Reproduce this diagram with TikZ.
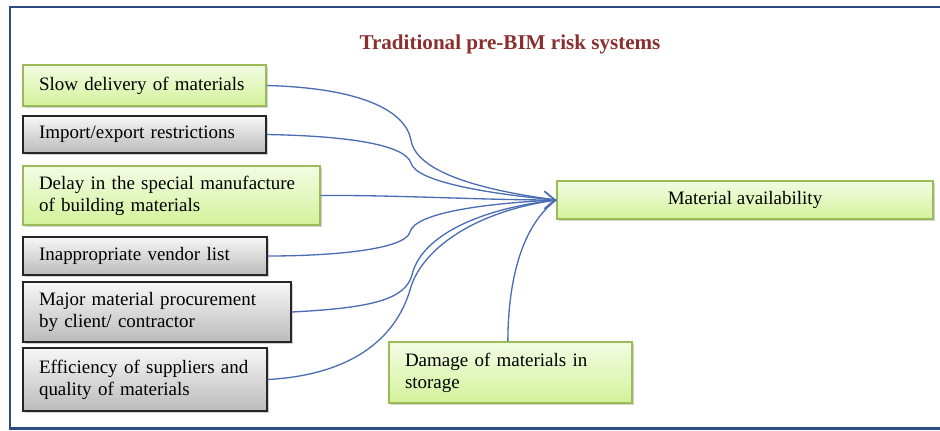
\documentclass[tikz,border=0pt]{standalone}
\usepackage{fontspec}
\setmainfont{Liberation Serif}
\usetikzlibrary{arrows.meta,shadows}
\definecolor{framec}{HTML}{2F4B7F}
\definecolor{linec}{HTML}{4A6DB3}
\definecolor{titlec}{HTML}{8B2F2F}
\definecolor{gborder}{HTML}{9BBB59}
\definecolor{gtop}{HTML}{F3FCE4}
\definecolor{gbot}{HTML}{D3F29A}
\definecolor{ytop}{HTML}{F7F7F7}
\definecolor{ybot}{HTML}{BBBBBB}
\tikzset{
  boxbase/.style={line width=0.8pt, font=\fontsize{10.8}{12.5}\selectfont, inner xsep=0pt, inner ysep=0pt,
    drop shadow={shadow xshift=1.3pt, shadow yshift=-1.3pt, opacity=0.35}},
  greenbox/.style={boxbase, draw=gborder, top color=gtop, bottom color=gbot},
  graybox/.style={boxbase, draw=black!85, top color=ytop, bottom color=ybot},
  conn/.style={draw=linec, line width=0.75pt},
}
\begin{document}
\begin{tikzpicture}[x=0.02cm, y=-0.02cm]
\useasboundingbox (0,0) rectangle (940,430);
\fill[white] (0,0) rectangle (940,430);
\draw[framec, line width=1.7pt] (960,7) -- (10,7) -- (10,428) -- (960,428);

\node[text=titlec, font=\bfseries\fontsize{12}{14}\selectfont] (title) at (510,44) {Traditional pre-BIM risk systems};

\node[greenbox, minimum width=4.86cm, minimum height=0.82cm, text width=4.22cm, align=left] (s1) at (144.5,85.5) {\mbox{Slow delivery of materials}};
\node[graybox, minimum width=4.86cm, minimum height=0.74cm, text width=4.22cm, align=left] (s2) at (144.5,134.5) {\mbox{Import/export restrictions}};
\node[greenbox, minimum width=5.94cm, minimum height=1.18cm, text width=5.30cm, align=left] (s3) at (171.5,195.5) {\mbox{Delay in the special manufacture}\\\mbox{of building materials}};
\node[graybox, minimum width=4.88cm, minimum height=0.76cm, text width=4.24cm, align=left] (s4) at (145,256) {\mbox{Inappropriate vendor list}};
\node[graybox, minimum width=5.36cm, minimum height=1.20cm, text width=4.72cm, align=left] (s5) at (157,312) {\mbox{Major material procurement}\\\mbox{by client/ contractor}};
\node[graybox, minimum width=4.88cm, minimum height=1.26cm, text width=4.24cm, align=left] (s6) at (145,379.5) {\mbox{Efficiency of suppliers and}\\\mbox{quality of materials}};
\node[greenbox, minimum width=7.52cm, minimum height=0.76cm, align=center] (ma) at (745,200) {Material availability};
\node[greenbox, minimum width=4.86cm, minimum height=1.22cm, text width=4.22cm, align=left] (dm) at (510.5,372.5) {\mbox{Damage of materials in}\\\mbox{storage}};

\coordinate (tip) at (ma.west);
\draw[conn] (s1.east) .. controls (360,88) and (405,110) .. (411,140) .. controls (416,172) and (480,190) .. (tip);
\draw[conn] (s2.east) .. controls (350,136) and (405,145) .. (411,163) .. controls (416,182) and (490,194) .. (tip);
\draw[conn, -{Straight Barb[length=6pt, width=10pt, line width=1pt]}] (s3.east) .. controls (400,195) and (480,200) .. (tip);
\draw[conn] (s4.east) .. controls (330,256) and (405,250) .. (410,232) .. controls (415,212) and (490,203) .. (tip);
\draw[conn] (s5.east) .. controls (370,308) and (405,300) .. (412,275) .. controls (420,240) and (470,210) .. (tip);
\draw[conn] (s6.east) .. controls (350,375) and (395,340) .. (410,290) .. controls (420,252) and (470,212) .. (tip);
\draw[conn] ([xshift=-1.5pt]dm.north) .. controls (508,280) and (522,225) .. (tip);
\end{tikzpicture}
\end{document}
